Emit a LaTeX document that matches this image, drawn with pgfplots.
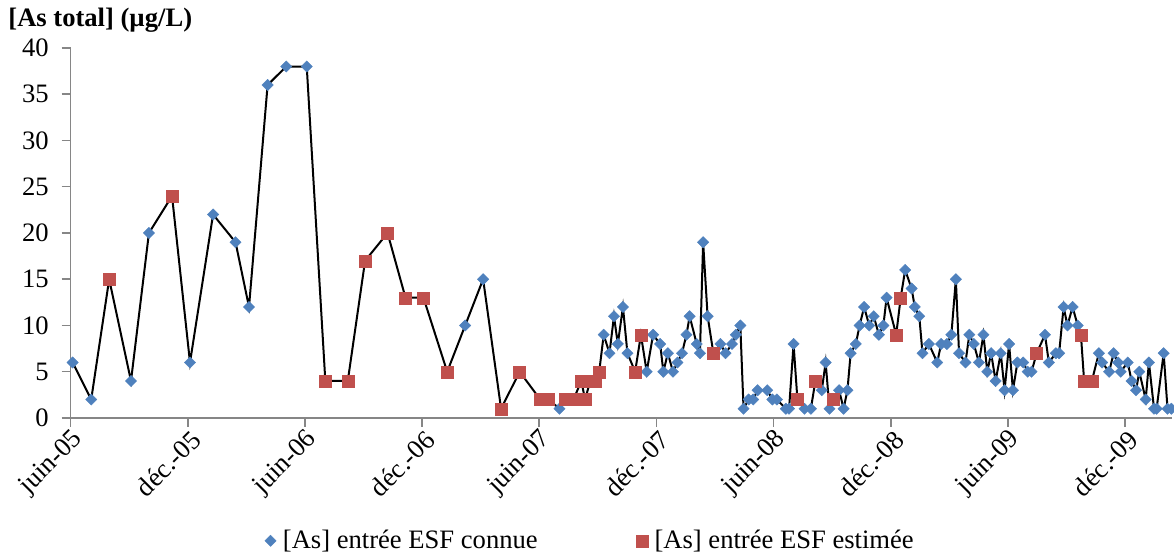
\documentclass[border=0pt]{standalone}
\usepackage{fontspec}
\setmainfont{Liberation Serif}
\usepackage{pgfplots}
\usepackage{pgfplotstable}
\pgfplotsset{compat=1.18}
\definecolor{axisgray}{HTML}{868686}
\definecolor{knownblue}{HTML}{4F81BD}
\definecolor{estred}{HTML}{C0504D}
\newcommand{\fs}{\fontsize{13.3}{16}\selectfont}
% d = days since 1 June 2005, v = [As] (ug/L), t = 0 known / 1 estimated
\pgfplotstableread{
d v t
3 6 0
32 2 0
60 15 1
94 4 0
122 20 0
158 24 1
186 6 0
222 22 0
257 19 0
278 12 0
307 36 0
336 38 0
368 38 0
397 4 1
432 4 1
459 17 1
494 20 1
522 13 1
550 13 1
587 5 1
615 10 0
643 15 0
671 1 1
700 5 1
732 2 1
745 2 1
762 1 0
771 2 1
784 2 1
796 4 1
802 2 1
810 4 1
817 4 1
824 5 1
831 9 0
840 7 0
847 11 0
853 8 0
861 12 0
868 7 0
880 5 1
889 9 1
898 5 0
908 9 0
919 8 0
924 5 0
931 7 0
939 5 0
946 6 0
953 7 0
960 9 0
965 11 0
976 8 0
981 7 0
986 19 0
993 11 0
1002 7 1
1013 8 0
1021 7 0
1031 8 0
1037 9 0
1044 10 0
1049 1 0
1057 2 0
1064 2 0
1071 3 0
1086 3 0
1094 2 0
1101 2 0
1115 1 0
1120 1 0
1127 8 0
1133 2 1
1144 1 0
1154 1 0
1161 4 1
1171 3 0
1177 6 0
1183 1 0
1189 2 1
1198 3 0
1205 1 0
1211 3 0
1216 7 0
1224 8 0
1230 10 0
1237 12 0
1245 10 0
1252 11 0
1260 9 0
1267 10 0
1272 13 0
1287 9 1
1294 13 1
1301 16 0
1311 14 0
1316 12 0
1323 11 0
1328 7 0
1338 8 0
1351 6 0
1357 8 0
1366 8 0
1373 9 0
1380 15 0
1385 7 0
1395 6 0
1401 9 0
1408 8 0
1416 6 0
1423 9 0
1429 5 0
1435 7 0
1442 4 0
1450 7 0
1456 3 0
1463 8 0
1469 3 0
1476 6 0
1485 6 0
1492 5 0
1498 5 0
1506 7 1
1519 9 0
1525 6 0
1536 7 0
1541 7 0
1548 12 0
1554 10 0
1562 12 0
1570 10 0
1575 9 1
1580 4 1
1592 4 1
1603 7 0
1608 6 0
1619 5 0
1626 7 0
1633 6 0
1637 5 0
1648 6 0
1654 4 0
1661 3 0
1666 5 0
1676 2 0
1681 6 0
1689 1 0
1693 1 0
1704 7 0
1710 1 0
1716 1 0
}\asdata
\begin{document}
\begin{tikzpicture}
\useasboundingbox (-35.35pt,-70pt) rectangle (551.7pt,209pt);
\begin{axis}[
  at={(0pt,0pt)}, anchor=south west,
  scale only axis, width=550.7pt, height=185pt,
  xmin=0, xmax=1717, ymin=0, ymax=40,
  axis x line*=bottom, axis y line*=left,
  axis line style={draw=axisgray, line width=0.75pt},
  xtick={0,183,365,548,730,913,1096,1279,1461,1644},
  xticklabels={juin-05,déc.-05,juin-06,déc.-06,juin-07,déc.-07,juin-08,déc.-08,juin-09,déc.-09},
  ytick={0,5,...,40},
  tick align=outside, major tick length=4.5pt,
  tick style={draw=axisgray, line width=0.75pt},
  xticklabel style={rotate=45, anchor=east, font=\fs, inner sep=1pt, xshift=1pt, yshift=-6pt},
  yticklabel style={font=\fs, xshift=-3pt},
  /pgf/number format/assume math mode=true,
  clip=false,
  legend style={at={(0.4715,-0.332)}, anchor=center, draw=none, fill=none,
    legend columns=2, font=\fs,
    /tikz/every even column/.append style={column sep=46pt}},
  legend image code/.code={\draw[#1] plot coordinates {(4pt,0pt)}; \path (0pt,0pt) (8pt,0pt);},
]
\addplot[black, line width=1pt, mark=none, forget plot] table[x=d, y=v] {\asdata};
\addplot[only marks, mark=square*, mark size=2pt, mark options={rotate=45, fill=knownblue, draw=knownblue, line width=0.2pt},
  restrict expr to domain={\thisrow{t}}{0:0}] table[x=d, y=v] {\asdata};
\addlegendentry{[As] entrée ESF connue}
\addplot[only marks, mark=square*, mark size=3pt, mark options={fill=estred, draw=estred, line width=0.2pt},
  restrict expr to domain={\thisrow{t}}{1:1}] table[x=d, y=v] {\asdata};
\addlegendentry{[As] entrée ESF estimée}
\end{axis}
\node[anchor=base west, font=\bfseries\fs, inner sep=0pt] at (-31.35pt,195.5pt) {[As total] (µg/L)};
\end{tikzpicture}
\end{document}
